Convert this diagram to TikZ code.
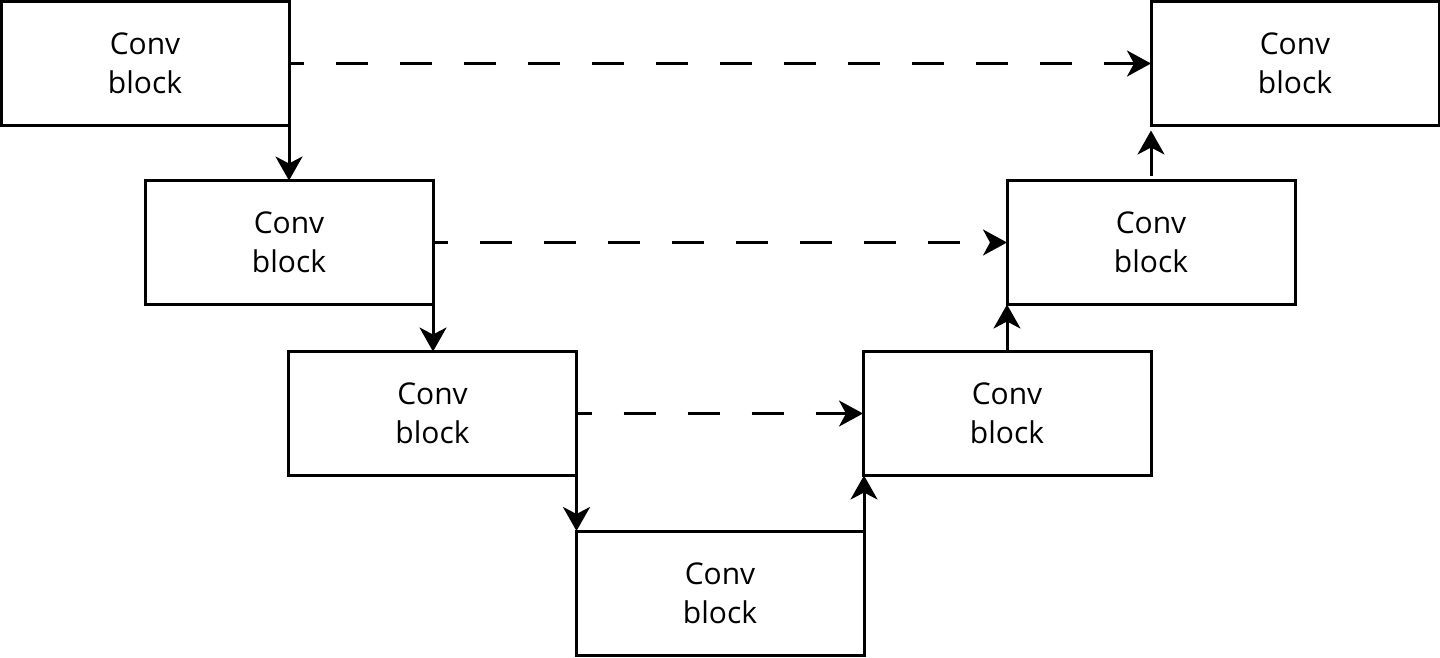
\documentclass[tikz,border=0pt]{standalone}
\usepackage{fontspec}
\setmainfont{Open Sans}
\usetikzlibrary{arrows.meta}
\begin{document}
\begin{tikzpicture}[x=1pt,y=-1pt,
  box/.style={draw=black, line width=3pt, minimum width=288pt, minimum height=124pt,
    inner sep=0pt, outer sep=0pt, align=center,
    font=\fontsize{30}{39}\selectfont},
  flow/.style={line width=3pt, -{Stealth[length=24pt,width=27pt,inset=7pt]}},
  skip/.style={line width=2.5pt, dash pattern=on 32pt off 32pt, dash phase=17pt,
    -{Stealth[length=24pt,width=26pt,inset=7pt]}}]
\useasboundingbox (0,0) rectangle (1440,657);
\node[box] (A) at (145,63.5) {Conv\\block};
\node[box] (B) at (289,242.5) {Conv\\block};
\node[box] (C) at (432.5,413.5) {Conv\\block};
\node[box] (D) at (720,593) {Conv\\block};
\node[box] (E) at (1007,413.5) {Conv\\block};
\node[box] (F) at (1151,242.5) {Conv\\block};
\node[box] (G) at (1295,63.5) {Conv\\block};
\draw[flow] (A.south east) -- (B.north);
\draw[flow] (B.south east) -- (B.south east |- C.north);
\draw[flow] (C.south east) -- (C.south east |- D.north);
\draw[flow] (D.north east) -- (D.north east |- E.south);
\draw[flow] (E.north) -- (F.south west);
\draw[flow, shorten <=5pt, shorten >=5pt] (F.north) -- (G.south west);
\draw[skip] (A.east) -- (G.west);
\draw[skip] (B.east) -- (F.west);
\draw[skip] (C.east) -- (E.west);
\end{tikzpicture}
\end{document}
